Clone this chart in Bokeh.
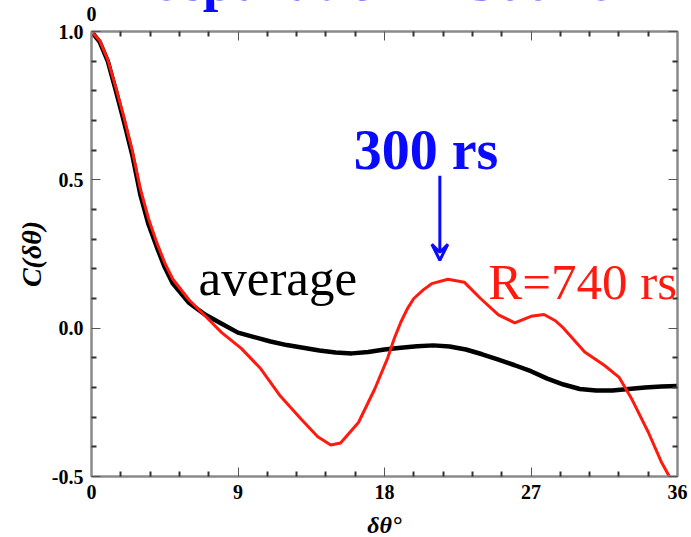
from bokeh.plotting import figure
from bokeh.models import FixedTicker, Label, Arrow, VeeHead, LinearAxis, Range1d
from bokeh.embed import file_html
from bokeh.resources import INLINE

# ---- data ----
avg_x = [0, 0.5, 1, 1.5, 2, 2.5, 3, 3.5, 4, 4.5, 5, 6, 7, 8, 9, 10, 11, 12, 13, 14,
         15, 16, 17, 18, 19, 20, 21, 22, 23, 24, 25, 26, 27, 28, 29, 30, 31, 32, 33,
         34, 35, 36]
avg_y = [1.0, 0.965, 0.9, 0.8, 0.695, 0.585, 0.45, 0.35, 0.275, 0.205, 0.15, 0.085,
         0.045, 0.015, -0.015, -0.03, -0.045, -0.057, -0.066, -0.075, -0.082, -0.085,
         -0.08, -0.072, -0.066, -0.061, -0.058, -0.062, -0.072, -0.088, -0.106, -0.125,
         -0.145, -0.17, -0.19, -0.205, -0.21, -0.21, -0.205, -0.2, -0.197, -0.195]

r740_x = [0, 0.5, 1, 1.5, 2, 2.5, 3, 3.5, 4, 4.5, 5, 6, 7, 8, 9.2, 10.4, 11.6, 12.9,
          13.9, 14.7, 15.3, 16.4, 17.4, 18.2, 18.6, 19.0, 19.4, 19.8, 20.4, 20.9,
          21.9, 22.9, 23.9, 25, 26, 27, 27.8, 28.5, 29, 30.3, 31.5, 32.4, 33.2, 34.2,
          35, 35.5]
r740_y = [1.0, 0.97, 0.905, 0.81, 0.71, 0.6, 0.47, 0.37, 0.29, 0.22, 0.165, 0.095,
          0.04, -0.015, -0.068, -0.137, -0.229, -0.308, -0.366, -0.394, -0.387, -0.318,
          -0.205, -0.1, -0.035, 0.02, 0.065, 0.1, 0.13, 0.15, 0.165, 0.155, 0.1, 0.045,
          0.018, 0.04, 0.046, 0.025, 0.0, -0.08, -0.125, -0.165, -0.24, -0.35, -0.45,
          -0.5]

x_ticks = [0, 9, 18, 27, 36]
x_tick_labels = ["0", "9", "18", "27", "36"]
top_tick_labels = ["0", "", "", "", ""]
x_minor = [1.8 * i for i in range(21) if i % 5 != 0]
y_ticks = [-0.5, 0.0, 0.5, 1.0]
y_tick_labels = ["-0.5", "0.0", "0.5", "1.0"]
y_minor = [round(-0.5 + 0.1 * i, 2) for i in range(16) if i % 5 != 0]

title_text = "separation = 300 rs"
peak_text = "300 rs"
avg_text = "average"
r_text = "R=740 rs"
arrow_x, arrow_y0, arrow_y1 = 21.4, 0.514, 0.229

SERIF = "Liberation Serif"
BLUE = "#0a0aff"
RED = "#ff1a10"

HIDDEN_TOP = 54  # part of the figure (top of the title) lying above the window

p = figure(frame_width=586, frame_height=445, x_range=Range1d(0, 36),
           y_range=Range1d(-0.5, 1.0), output_backend="svg", toolbar_location=None,
           min_border_left=91, min_border_right=14, min_border_top=35,
           min_border_bottom=59, margin=(-HIDDEN_TOP, 0, 0, 0))
p.grid.visible = False
p.background_fill_color = "white"
p.border_fill_color = "white"
p.outline_line_color = "#8a8a8a"
p.outline_line_width = 2

xt = FixedTicker(ticks=x_ticks, minor_ticks=x_minor)
yt = FixedTicker(ticks=y_ticks, minor_ticks=y_minor)


def style_axis(ax, labels=True):
    ax.axis_line_color = "#8a8a8a"
    ax.axis_line_width = 2
    ax.major_tick_in = 9
    ax.major_tick_out = 0
    ax.minor_tick_in = 5
    ax.minor_tick_out = 0
    ax.major_tick_line_color = "#555555"
    ax.minor_tick_line_color = "#333333"
    ax.major_tick_line_width = 1
    ax.minor_tick_line_width = 2
    if labels:
        ax.major_label_text_font = SERIF
        ax.major_label_text_font_style = "bold"
        ax.major_label_text_font_size = "20px"
        ax.major_label_text_color = "black"
    else:
        ax.major_label_text_font_size = "0px"
        ax.major_label_standoff = 0


p.xaxis.ticker = xt
p.yaxis.ticker = yt
p.xaxis.major_label_overrides = {t: s for t, s in zip(x_ticks, x_tick_labels)}
p.yaxis.major_label_overrides = {t: s for t, s in zip(y_ticks, y_tick_labels)}
style_axis(p.xaxis[0])
style_axis(p.yaxis[0])
p.xaxis.major_label_standoff = 8
p.yaxis.major_label_standoff = 8

p.xaxis.axis_label = "δθ°"
p.yaxis.axis_label = "C(δθ)"
for ax in (p.xaxis[0], p.yaxis[0]):
    ax.axis_label_text_font = SERIF
    ax.axis_label_text_font_style = "bold italic"
    ax.axis_label_text_color = "black"
p.xaxis.axis_label_text_font_size = "24px"
p.yaxis.axis_label_text_font_size = "28px"
p.xaxis.axis_label_standoff = 10
p.yaxis.axis_label_standoff = 2

# top axis: inward ticks, the stray "0" and the (cropped) blue title
top = LinearAxis(ticker=xt)
style_axis(top)
top.major_label_overrides = {t: s for t, s in zip(x_ticks, top_tick_labels)}
top.major_label_standoff = 11
top.axis_label = title_text
top.axis_label_text_font = SERIF
top.axis_label_text_font_style = "bold"
top.axis_label_text_font_size = "56px"
top.axis_label_text_color = BLUE
top.axis_label_standoff = -8
p.add_layout(top, "above")

right = LinearAxis(ticker=yt)
style_axis(right, labels=False)
p.add_layout(right, "right")

p.line(avg_x, avg_y, line_color="black", line_width=4.5)
p.line(r740_x, r740_y, line_color=RED, line_width=3)

p.add_layout(Label(x=20.55, y=0.599, text=peak_text, text_font=SERIF,
                   text_font_style="bold", text_font_size="56px", text_color=BLUE,
                   text_align="center", text_baseline="alphabetic"))
p.add_layout(Label(x=6.58, y=0.168, text=avg_text, text_font=SERIF,
                   text_font_size="51px", text_color="black",
                   text_align="left", text_baseline="alphabetic"))
p.add_layout(Label(x=24.37, y=0.154, text=r_text, text_font=SERIF,
                   text_font_size="51px", text_color=RED,
                   text_align="left", text_baseline="alphabetic"))
p.add_layout(Arrow(end=VeeHead(size=16, line_color=BLUE, line_width=3, fill_alpha=0),
                   x_start=arrow_x, y_start=arrow_y0, x_end=arrow_x, y_end=arrow_y1,
                   line_color=BLUE, line_width=3))

open("out.html", "w").write(file_html(p, INLINE))
